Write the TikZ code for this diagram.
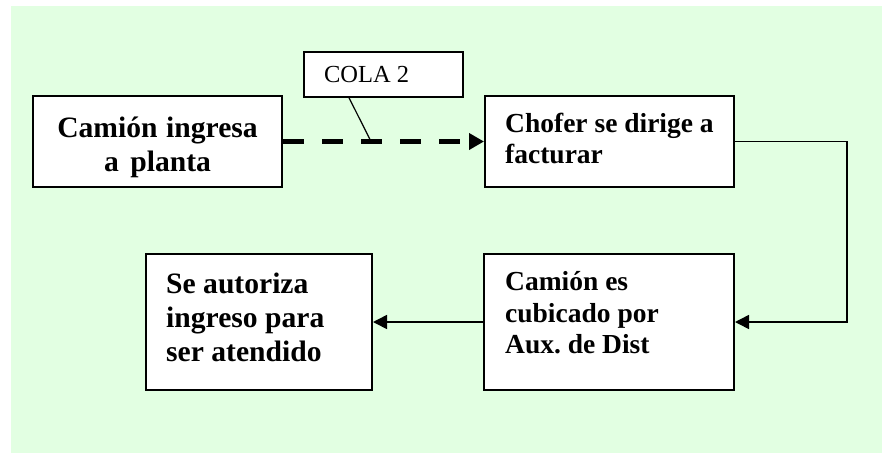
\documentclass[tikz,border=0pt]{standalone}
\usepackage{fontspec}
\setmainfont{Liberation Serif}
\usetikzlibrary{arrows.meta,calc}
\definecolor{bggreen}{RGB}{226,255,226}
\tikzset{
  every node/.style={execute at begin node={\frenchspacing\spaceskip=0pt\xspaceskip=0pt\relax}},
  boxnode/.style={draw=black, line width=2pt, fill=white, rectangle, inner sep=0pt},
  txtnode/.style={inner sep=0pt, align=left, font=\bfseries\fontsize{27.5}{31.5}\selectfont},
  bigtxt/.style={inner sep=0pt, font=\bfseries\fontsize{29.6}{34.2}\selectfont},
  conn/.style={line width=1.6pt, -{Triangle[length=14pt,width=14pt]}},
  queue/.style={line width=5pt, dash pattern=on 21pt off 18pt, -{Triangle[length=15pt,width=16pt]}},
  note/.style={draw=black, line width=1.5pt, fill=white, rectangle, inner xsep=20pt, inner ysep=0pt,
    minimum width=159pt, minimum height=45pt, text width=119pt, align=left, font=\fontsize{24.5}{28}\selectfont}
}
\begin{document}
\begin{tikzpicture}[x=1pt,y=-1pt]
\useasboundingbox (0,0) rectangle (882,453);
\fill[bggreen] (11,6) rectangle (882,453);

% boxes
\node[boxnode, minimum width=249pt, minimum height=91pt] (b1) at (157.5,141.5) {};
\node[boxnode, minimum width=249pt, minimum height=91pt] (b2) at (609.5,141.5) {};
\node[boxnode, minimum width=250pt, minimum height=136pt] (b3) at (609,322) {};
\node[boxnode, minimum width=226pt, minimum height=136pt] (b4) at (259,322) {};

% texts
\node[bigtxt, text width=240pt, align=center, anchor=base] (t1) at (157.5,137) {Camión ingresa\\a planta};
\node[txtnode, text width=220pt, anchor=base west] (t2) at (505,132) {Chofer se dirige a\\facturar};
\node[txtnode, text width=220pt, anchor=base west] (t3) at (505,290.5) {Camión es\\cubicado por\\Aux. de Dist};
\node[bigtxt, text width=200pt, align=left, anchor=base west] (t4) at (166,293) {Se autoriza\\ingreso para\\ser atendido};

% callout
\node[note] (cola) at (383.5,74.5) {COLA 2};

% connectors
\draw[queue] (b1.east) -- (b2.west);
\coordinate (q) at ($(b1.east)!0.438!(b2.west)$);
\draw[line width=1.2pt] ([xshift=-34.5pt]cola.south) -- (q);
\coordinate (rt) at (847,0);
\draw[conn] (b2.east) -- (b2.east -| rt) -- (b3.east -| rt) -- (b3.east);
\draw[conn] (b3.west) -- (b4.east);
\end{tikzpicture}
\end{document}
